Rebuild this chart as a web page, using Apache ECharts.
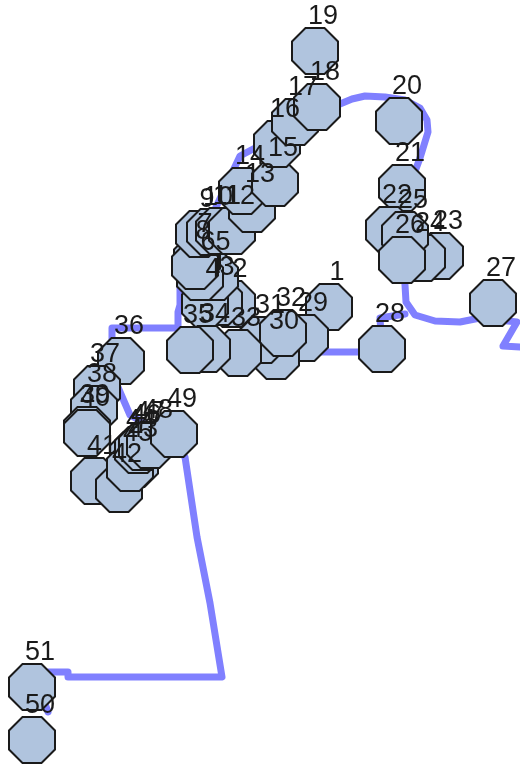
<!DOCTYPE html>
<html>
<head>
<meta charset="utf-8">
<script src="https://cdn.jsdelivr.net/npm/echarts@6/dist/echarts.min.js"></script>
<style>
	html, body { margin: 0; padding: 0; background: #fff; }
	#main { width: 520px; height: 764px; }
</style>
</head>
<body>
<div id="main"></div>
<script>
// node ids and positions (plot units, y grows downward)
var nodeIds = ['1','2','3','4','5','6','7','8','9','10','11','12','13','14','15','16','17','18','19','20',
	'21','22','23','24','25','26','27','28','29','30','31','32','33','34','35','36','37','38','39','40',
	'41','42','43','44','45','46','47','48','49','50','51'];
var nodeX = [329,232,219,205,215,200,197,195,199,210,219,232,252,242,275,277,295,317,315,399,
	402,389,440,422,405,402,493,382,305,276,262,283,238,207,190,121,97,94,87,87,
	94,119,135,133,130,138,142,150,174,32,32];
var nodeY = [307,304,302,304,277,277,259,266,234,232,231,231,209,191,183,144,122,107,51,121,
	188,230,256,258,235,260,303,349,338,356,340,333,353,349,350,361,389,409,430,433,
	481,489,464,455,468,450,447,445,434,740,687];

// route track
var routeX = [520,503,517,480,460,435,415,406,405,402,410,420,428,427,420,405,385,365,352,340,
	300,270,240,210,180,180,178,178,112,112,117,130,160,185,197,210,222,68,68,48,40,48];
var routeY = [347,346,322,318,322,321,315,302,285,250,185,158,132,120,108,100,97,96,99,104,
	125,140,156,220,285,305,312,328,328,340,385,415,432,457,537,603,677,677,672,672,690,712];
var branchX = [405,380,382,360,300,270];
var branchY = [314,318,350,352,352,350];

var myChart = echarts.init(document.getElementById('main'));

var nodeData = [];
for(var i = 0; i < nodeIds.length; i++) {
	nodeData.push({ name: nodeIds[i], value: [nodeX[i], nodeY[i]] });
}
var routeData = [];
for(var i = 0; i < routeX.length; i++) {
	routeData.push([routeX[i], routeY[i]]);
}
var branchData = [];
for(var i = 0; i < branchX.length; i++) {
	branchData.push([branchX[i], branchY[i]]);
}

var octagon = 'path://M29.3,0 L70.7,0 L100,29.3 L100,70.7 L70.7,100 L29.3,100 L0,70.7 L0,29.3 Z';
var routeStyle = {
	color: '#8080ff',
	width: 7,
	cap: 'round',
	join: 'round'
};

option = {
	animation: false,
	grid: { left: 0, right: 0, top: 0, bottom: 0 },
	xAxis: { type: 'value', min: 0, max: 520, show: false },
	yAxis: { type: 'value', min: 0, max: 764, inverse: true, show: false },
	series: [
		{
			type: 'line',
			data: routeData,
			showSymbol: false,
			lineStyle: routeStyle,
			z: 1
		},
		{
			type: 'line',
			data: branchData,
			showSymbol: false,
			lineStyle: routeStyle,
			z: 1
		},
		{
			type: 'scatter',
			data: nodeData,
			symbol: octagon,
			symbolSize: 46,
			itemStyle: {
				color: '#b0c4de',
				borderColor: '#1a1a1a',
				borderWidth: 2,
				opacity: 1
			},
			label: {
				show: true,
				position: 'top',
				distance: 0,
				offset: [8, 3],
				formatter: '{b}',
				fontFamily: 'Liberation Sans, Arial, sans-serif',
				fontSize: 27,
				color: '#1a1a1a'
			},
			z: 2
		}
	]
};
myChart.setOption(option);
</script>
</body>
</html>
